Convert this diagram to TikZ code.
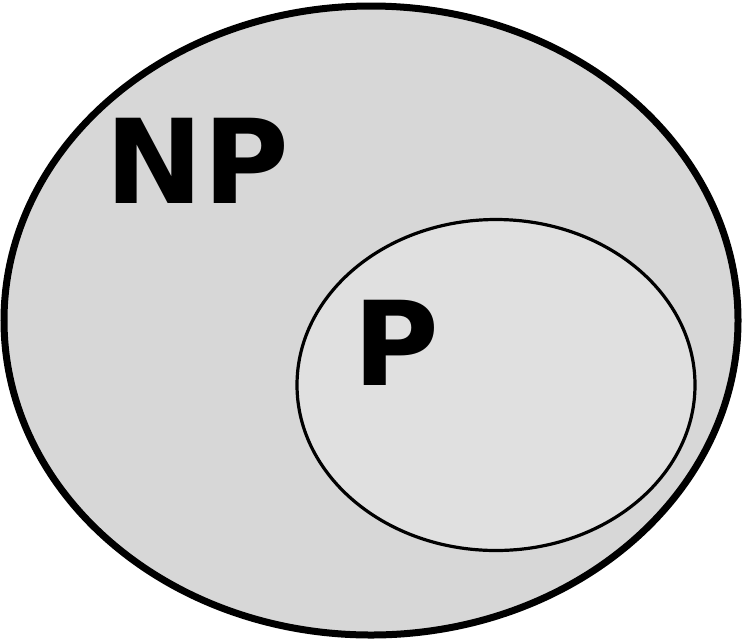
\documentclass[tikz,border=0pt]{standalone}
\usepackage{fontspec}
\setmainfont{DejaVu Sans}
\definecolor{outerfill}{HTML}{D7D7D7}
\definecolor{innerfill}{HTML}{E0E0E0}
\begin{document}
\begin{tikzpicture}[x=1pt,y=-1pt,
  setlabel/.style={font=\bfseries\fontsize{117}{117}\selectfont, inner sep=0pt, anchor=base}]
\useasboundingbox (0,0) rectangle (743,641);
\draw[line width=7pt, fill=outerfill] (371,320.5) ellipse [x radius=367, y radius=314.5];
\draw[line width=3.2pt, fill=innerfill] (496,385) ellipse [x radius=199, y radius=165.5];
\node[setlabel] (np) at (197.5,203) {NP};
\node[setlabel] (p) at (396,385) {P};
\end{tikzpicture}
\end{document}
